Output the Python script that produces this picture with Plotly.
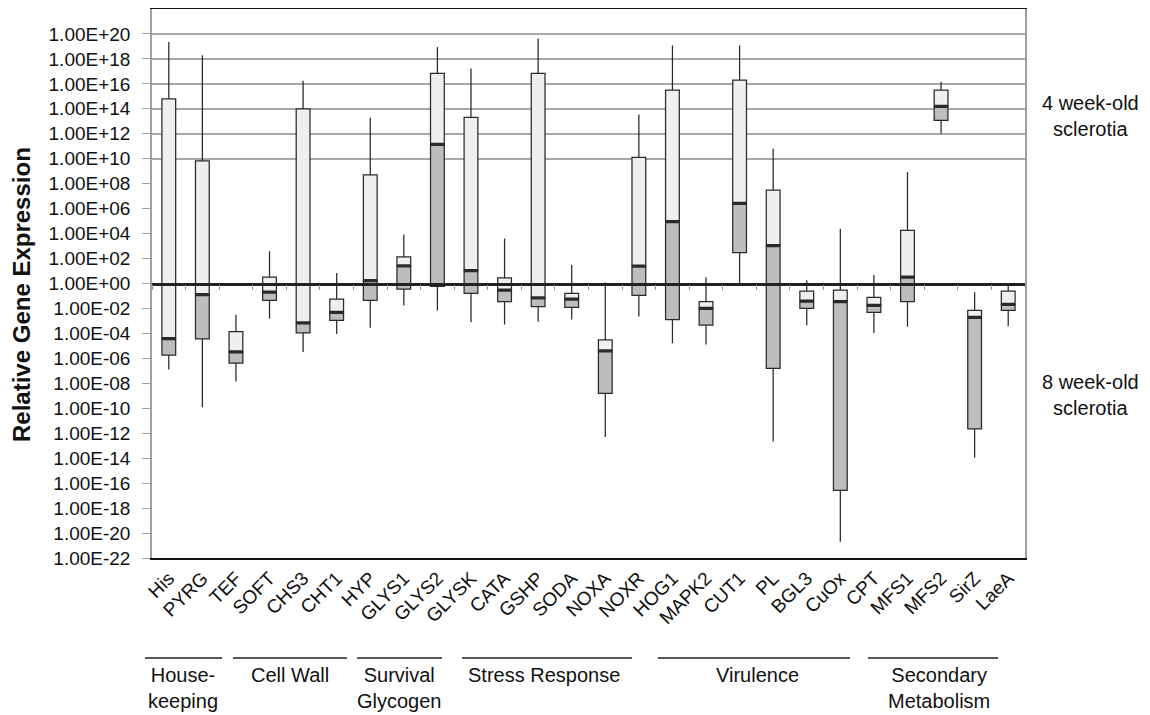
import plotly.graph_objects as go

genes = ["His", "PYRG", "TEF", "SOFT", "CHS3", "CHT1", "HYP", "GLYS1", "GLYS2", "GLYSK",
         "CATA", "GSHP", "SODA", "NOXA", "NOXR", "HOG1", "MAPK2", "CUT1", "PL", "BGL3",
         "CuOx", "CPT", "MFS1", "MFS2", "SirZ", "LaeA"]

whisker_max = [2.3e19, 1.95e18, 3.2e-3, 390, 1.8e16, 7.1, 1.9e13, 8.5e3, 9.1e18, 1.7e17,
               4.1e3, 4.3e19, 30, 1.2, 3.5e13, 1.2e19, 3.2, 1.2e19, 6.2e10, 1.8,
               2.4e4, 4.7, 8.7e8, 1.4e16, 0.2, 1.1]
box_top = [6.2e14, 6.6e9, 1.4e-4, 3.2, 9.8e13, 0.056, 5.0e8, 135, 6.8e16, 2.1e13,
           2.8, 6.8e16, 0.16, 3.0e-5, 1.26e10, 3.2e15, 0.036, 2.0e16, 3.0e7, 0.24,
           0.29, 0.079, 1.8e4, 3.2e15, 6.9e-3, 0.24]
median = [3.9e-5, 0.13, 3.3e-6, 0.2, 6.9e-4, 4.8e-3, 1.7, 26, 1.4e11, 11,
          0.29, 0.071, 0.055, 4.0e-6, 25, 9.3e4, 0.01, 2.7e6, 1.1e3, 0.038,
          0.036, 0.018, 3.2, 1.6e14, 1.9e-3, 0.021]
box_bottom = [1.8e-6, 3.6e-5, 4.1e-7, 0.044, 1.1e-4, 1.1e-3, 0.044, 0.35, 0.6, 0.16,
              0.036, 0.014, 0.012, 1.55e-9, 0.11, 1.3e-3, 4.6e-4, 300, 1.6e-7, 0.01,
              2.6e-17, 4.8e-3, 0.036, 1.2e13, 2.2e-12, 6.9e-3]
whisker_min = [1.3e-7, 1.2e-10, 1.4e-8, 1.5e-3, 3.2e-6, 9.1e-5, 2.8e-4, 0.017, 6.9e-3, 7.9e-4,
               5.1e-4, 8.5e-4, 1.3e-3, 5.1e-13, 2.3e-3, 1.66e-5, 1.3e-5, 1.1, 2.2e-13, 4.3e-4,
               2.0e-21, 1.1e-4, 3.4e-4, 1.05e12, 1.07e-14, 3.8e-4]

tick_exponents = list(range(-22, 21, 2))
grid_exponents = list(range(10, 21, 2))

groups = ["House-<br>keeping", "Cell Wall", "Survival<br>Glycogen", "Stress Response",
          "Virulence", "Secondary<br>Metabolism"]

FONT = "Liberation Sans, Arial, sans-serif"
LINE = "#2a2a2a"

# page body adds an 8px offset; figure sized so the plot lands where the reference has it
W, H = 1142, 707
ML, MR, MT, MB = 144, 125, 1, 157
OFF = 8
PLOT_L = OFF + ML
PLOT_W = W - ML - MR
PLOT_B = OFF + H - MB
PLOT_H = H - MT - MB


def px2x(px):
    return (px - PLOT_L) / PLOT_W


def px2y(py):
    return (PLOT_B - py) / PLOT_H


fig = go.Figure()

# upper (light) half of each box: median -> Q3, whisker to max
fig.add_trace(go.Box(
    x=genes, q1=median, median=median, q3=box_top,
    lowerfence=median, upperfence=whisker_max,
    fillcolor="#efefef", line=dict(color=LINE, width=1.25),
    whiskerwidth=0, width=0.41, boxpoints=False, showlegend=False,
    name="4 week-old sclerotia"))
# lower (dark) half: Q1 -> median, whisker to min
fig.add_trace(go.Box(
    x=genes, q1=box_bottom, median=median, q3=median,
    lowerfence=whisker_min, upperfence=median,
    fillcolor="#bdbdbd", line=dict(color=LINE, width=1.25),
    whiskerwidth=0, width=0.41, boxpoints=False, showlegend=False,
    name="8 week-old sclerotia"))

# invisible helper trace carrying the crossing axis at 1 and the partial gridlines
fig.add_trace(go.Scatter(
    x=genes, y=[1] * len(genes), xaxis="x2", yaxis="y2", mode="markers",
    marker=dict(size=1, opacity=0), hoverinfo="skip", showlegend=False))

fig.update_layout(
    width=W, height=H,
    margin=dict(l=ML, r=MR, t=MT, b=MB, autoexpand=False),
    paper_bgcolor="white", plot_bgcolor="white",
    boxmode="overlay",
    font=dict(family=FONT, color="#111"),
    xaxis=dict(
        type="category", categoryorder="array", categoryarray=genes,
        range=[-0.5, len(genes) - 0.5],
        showline=True, linecolor="#111", linewidth=1.5, mirror=True,
        showgrid=False, ticks="", ticklabelstandoff=0,
        tickangle=-45, tickfont=dict(size=19, family=FONT, color="#111"),
    ),
    xaxis2=dict(
        type="category", categoryorder="array", categoryarray=genes,
        range=[-0.5, len(genes) - 0.5], overlaying="x", anchor="free", position=0.5,
        showline=True, linecolor="#222", linewidth=2.5, showgrid=False,
        ticks="outside", tickson="boundaries", ticklen=5, tickcolor="#999",
        showticklabels=False,
    ),
    yaxis=dict(
        type="log", range=[-22, 22],
        tickmode="array",
        tickvals=[10.0 ** e for e in tick_exponents],
        ticktext=[f"1.00E{e:+03d}" for e in tick_exponents],
        showline=True, linecolor="#a0a0a0", linewidth=1.5, mirror=True,
        showgrid=False, ticks="outside", ticklen=8, tickcolor="#a0a0a0",
        ticklabelstandoff=8,
        tickfont=dict(size=19, family=FONT, color="#111"),
    ),
    yaxis2=dict(
        type="log", range=[-22, 22], overlaying="y", anchor="x", side="left",
        tickmode="array", tickvals=[10.0 ** e for e in grid_exponents],
        showticklabels=False, ticks="", showline=False,
        showgrid=True, gridcolor="#a8a8a8", gridwidth=1.5, zeroline=False,
    ),
)

# y-axis title
fig.add_annotation(text="<b>Relative Gene Expression</b>", xref="paper", yref="paper",
                   x=px2x(21), y=px2y(295), textangle=-90,
                   showarrow=False, font=dict(size=24, family=FONT, color="#111"),
                   xanchor="center", yanchor="middle")

# right-side labels
for txt, ypx in [("4 week-old<br>sclerotia", 116), ("8 week-old<br>sclerotia", 395)]:
    fig.add_annotation(text=txt, xref="paper", yref="paper",
                       x=px2x(1090), y=px2y(ypx),
                       showarrow=False, font=dict(size=20, family=FONT, color="#111"),
                       xanchor="center", yanchor="middle")

# group brackets and labels
group_layout = [(145, 222, 183), (233, 347, 290), (357, 442, 399),
                (462, 632, 544), (658, 850, 757), (868, 998, 939)]
for name, (x0, x1, xc) in zip(groups, group_layout):
    fig.add_shape(type="line", xref="paper", yref="paper",
                  x0=px2x(x0), x1=px2x(x1), y0=px2y(658), y1=px2y(658),
                  line=dict(color="#222", width=1.3))
    fig.add_annotation(text=name, xref="paper", yref="paper",
                       x=px2x(xc), y=px2y(662),
                       showarrow=False, font=dict(size=20, family=FONT, color="#111"),
                       xanchor="center", yanchor="top")

fig.write_html("out.html")
